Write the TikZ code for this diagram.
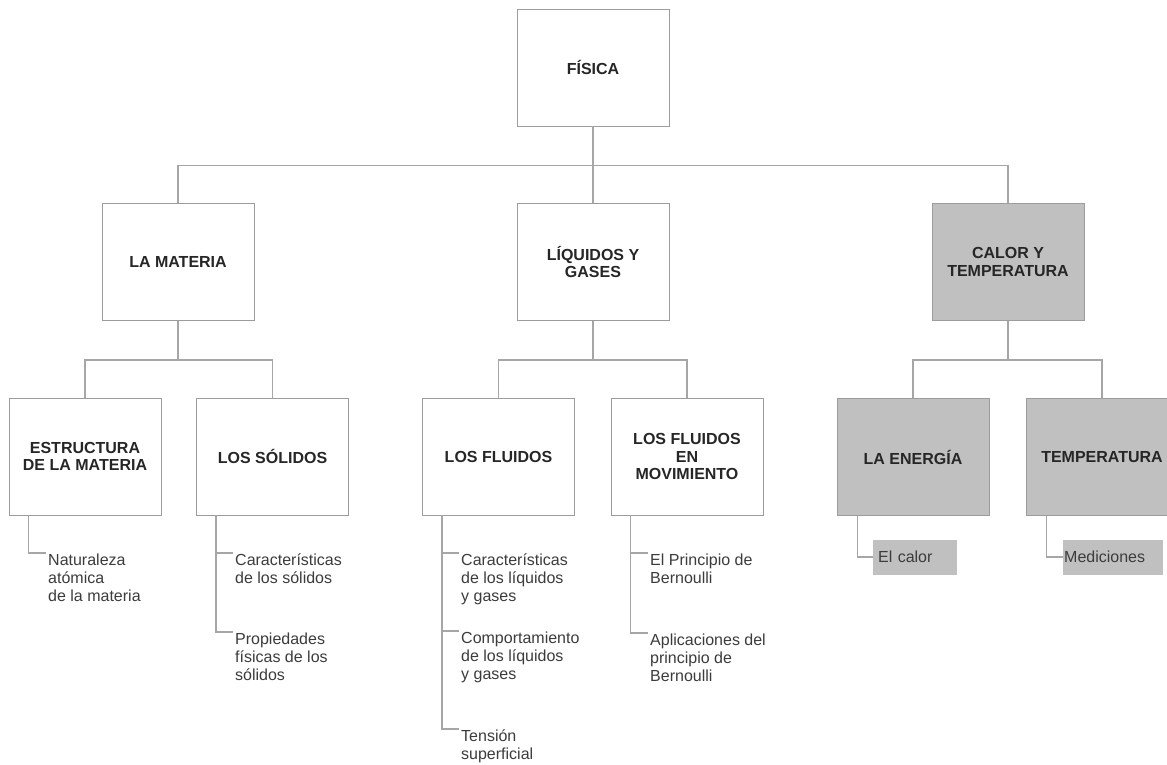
\documentclass[tikz,border=0pt]{standalone}
\usepackage{fontspec}
\setmainfont{Liberation Sans}
\usetikzlibrary{calc}
\definecolor{edge}{HTML}{9C9C9C}
\definecolor{wire}{HTML}{A6A6A6}
\definecolor{shade}{HTML}{C0C0C0}
\definecolor{ink}{HTML}{262626}
\definecolor{leafink}{HTML}{3C3C3C}

\begin{document}
\begin{tikzpicture}[x=1pt,y=-1pt,
  topic/.style={draw=edge, line width=0.9pt, minimum width=152pt, minimum height=117pt,
    inner sep=0pt, align=center, font=\fontsize{16}{17.5}\selectfont\bfseries, text=ink},
  warm/.style={topic, fill=shade},
  wire/.style={draw=wire, line width=1.2pt},
  leaf/.style={anchor=north west, inner xsep=2pt, inner ysep=0pt, align=left,
    font=\fontsize{16}{18}\selectfont, text=leafink},
  chip/.style={anchor=west, fill=shade, draw=shade, minimum height=34pt, inner ysep=0pt,
    align=left, font=\fontsize{16}{18}\selectfont, text=leafink}
]
\clip (0,0) rectangle (1167,764);
\fill[white] (0,0) rectangle (1167,764);

% top level
\node[topic] (fis) at (593,67.5) {FÍSICA};

% second level
\node[topic] (mat) at (178,262) {LA MATERIA};
\node[topic] (liq) at (593,262) {LÍQUIDOS Y\\GASES};
\node[warm]  (cal) at (1008,262) {CALOR Y\\TEMPERATURA};

% third level
\node[topic] (est) at (85,456.5) {ESTRUCTURA\\DE LA MATERIA};
\node[topic] (sol) at (272.5,456.5) {LOS SÓLIDOS};
\node[topic] (flu) at (498.5,456.5) {LOS FLUIDOS};
\node[topic] (mov) at (687,456.5) {LOS FLUIDOS\\EN\\MOVIMIENTO};
\node[warm]  (ene) at (913,457) {LA ENERGÍA};
\node[warm]  (tem) at (1102,457) {TEMPERATURA};

% buses between levels
\coordinate (bus1) at (593,165.5);
\draw[wire] (fis.south) -- (bus1);
\draw[wire] (mat.north) |- (bus1);
\draw[wire] (liq.north) -- (bus1);
\draw[wire] (cal.north) |- (bus1);

\coordinate (busm) at (178,360);
\draw[wire] (mat.south) -- (busm);
\draw[wire] (est.north) |- (busm);
\draw[wire] (sol.north) |- (busm);

\coordinate (busl) at (593,360);
\draw[wire] (liq.south) -- (busl);
\draw[wire] (flu.north) |- (busl);
\draw[wire] (mov.north) |- (busl);

\coordinate (busc) at (1008,360);
\draw[wire] (cal.south) -- (busc);
\draw[wire] (ene.north) |- (busc);
\draw[wire] (tem.north) |- (busc);

% leaves
\node[leaf] (e1) at (46,553) {\strut Naturaleza\\atómica\\de la materia};
\node[leaf] (s1) at (233,553) {\strut Características\\de los sólidos};
\node[leaf] (s2) at (233,632) {\strut Propiedades\\físicas de los\\sólidos};
\node[leaf] (f1) at (459,553) {\strut Características\\de los líquidos\\y gases};
\node[leaf] (f2) at (459,631) {\strut Comportamiento\\de los líquidos\\y gases};
\node[leaf] (f3) at (459,729) {\strut Tensión\\superficial};
\node[leaf] (m1) at (648,553) {\strut El Principio de\\Bernoulli};
\node[leaf] (m2) at (648,633) {\strut Aplicaciones del\\principio de\\Bernoulli};
\node[chip, inner xsep=5pt, text width=73pt] (c1) at (873,557) {El calor};
\node[chip, inner xsep=1pt, text width=97pt] (t1) at (1063,557) {Mediciones};

\draw[wire] ($(est.south west)+(20,0)$) |- (e1.north west);
\draw[wire] ($(sol.south west)+(20,0)$) |- (s1.north west);
\draw[wire] ($(sol.south west)+(20,0)$) |- (s2.north west);
\draw[wire] ($(flu.south west)+(20,0)$) |- (f1.north west);
\draw[wire] ($(flu.south west)+(20,0)$) |- (f2.north west);
\draw[wire] ($(flu.south west)+(20,0)$) |- (f3.north west);
\draw[wire] ($(mov.south west)+(20,0)$) |- (m1.north west);
\draw[wire] ($(mov.south west)+(20,0)$) |- (m2.north west);
\draw[wire] ($(ene.south west)+(21,0)$) |- (c1.west);
\draw[wire] ($(tem.south west)+(21,0)$) |- (t1.west);
\end{tikzpicture}
\end{document}
